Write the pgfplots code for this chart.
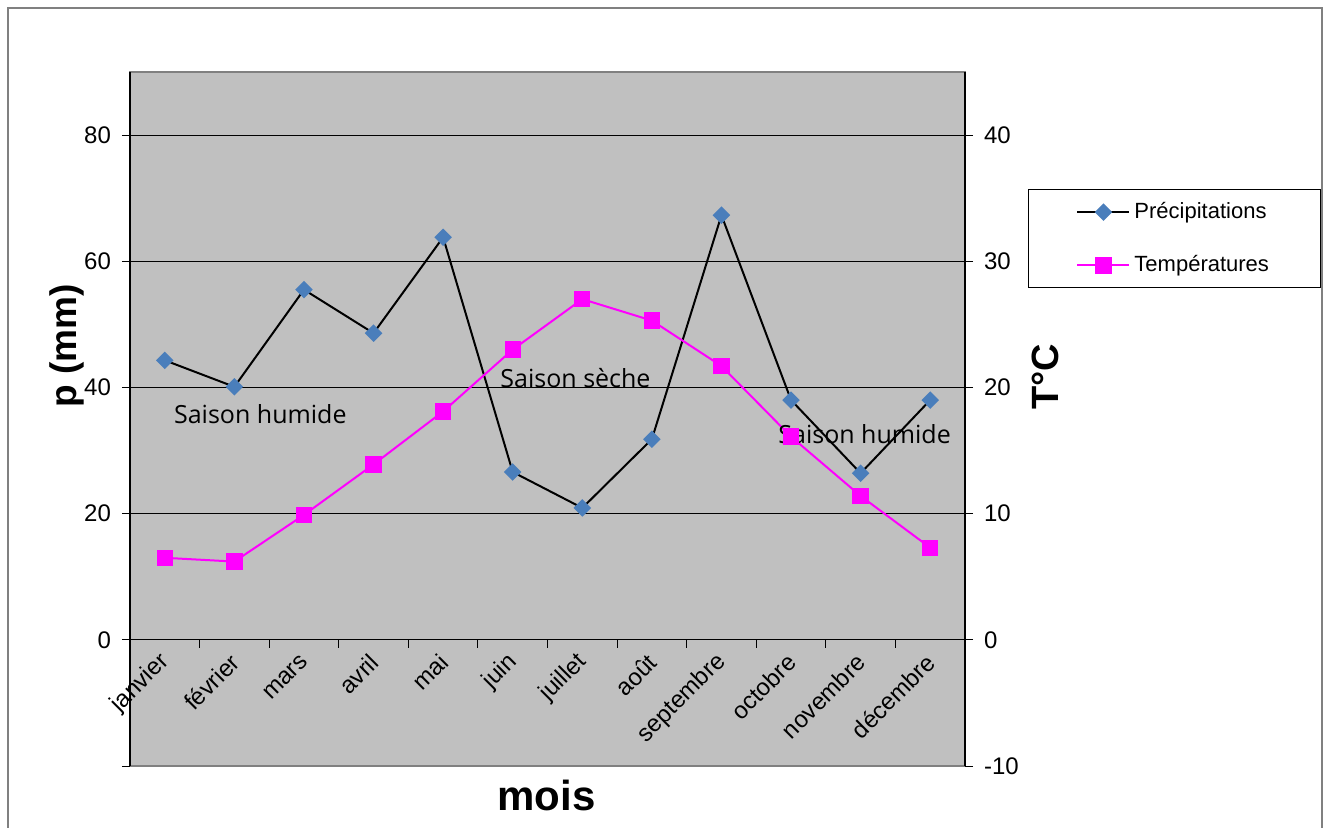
\documentclass[border=0pt]{standalone}
\usepackage{pgfplots}
\pgfplotsset{compat=1.18}
\usepackage{fontspec}
\setmainfont{Liberation Sans}
\newfontfamily\annotfont{Open Sans}
\definecolor{plotbg}{RGB}{192,192,192}
\definecolor{precipblue}{RGB}{74,126,187}
\definecolor{framegray}{RGB}{128,128,128}
\definecolor{tempmag}{RGB}{255,0,255}

% monthly data
\pgfplotstableread{
m  p     t
0  44.3  6.5
1  40.1  6.2
2  55.5  9.9
3  48.6  13.9
4  63.8  18.1
5  26.6  23.0
6  20.9  27.0
7  31.8  25.3
8  67.3  21.7
9  38.0  16.1
10 26.4  11.4
11 38.0  7.3
}\climat

\pgfplotsset{
  climbase/.style={
    at={(65pt,30.5pt)}, anchor=south west,
    width=417.5pt, height=347pt, scale only axis,
    xmin=-0.5, xmax=11.5,
    tick align=outside, major tick length=4pt,
    tick style={black, line width=0.5pt},
    tick label style={font=\fontsize{12}{14}\selectfont},
    /pgf/number format/assume math mode=true,
  },
}

\begin{document}
\begin{tikzpicture}
\useasboundingbox (0pt,0pt) rectangle (665pt,413.5pt);
\draw[framegray, line width=1pt] (4pt,-5pt) -- (4pt,409.5pt) -- (661pt,409.5pt) -- (661pt,-5pt);

\begin{axis}[climbase,
  ymin=-20, ymax=90,
  axis x line*=middle, axis y line*=left,
  hide obscured x ticks=false,
  axis line style={-, black, line width=0.6pt},
  axis background/.style={fill=plotbg, draw=framegray, line width=1pt},
  ytick={0,20,...,80},
  extra y ticks={-20}, extra y tick labels={}, extra y tick style={grid=none},
  ymajorgrids, grid style={black, line width=0.5pt},
  xtick={-0.5,0.5,...,11.5},
  x tick label as interval,
  xticklabels={janvier,février,mars,avril,mai,juin,juillet,août,septembre,octobre,novembre,décembre},
  xticklabel style={rotate=45, anchor=east, yshift=-4pt},
  yticklabel style={xshift=-2pt},
]
\addplot[black, line width=1pt, mark=square*, mark size=2.6pt,
  mark options={rotate=45, fill=precipblue, draw=precipblue}]
  table[x=m, y=p] {\climat};
\end{axis}

\begin{axis}[climbase,
  ymin=-10, ymax=45,
  axis y line*=right, axis x line=none,
  axis line style={-, black, line width=0.6pt},
  ytick={-10,0,...,40},
  yticklabel style={xshift=2pt},
  legend cell align=left,
  legend style={at={(1.0754,0.8314)}, anchor=north west,
    draw=black, line width=0.5pt, fill=white,
    inner xsep=24pt, inner ysep=4.5pt, row sep=13pt,
    font=\fontsize{11}{13}\selectfont},
  legend image code/.code={
    \draw[mark repeat=2, mark phase=2, #1]
      plot coordinates {(0pt,0pt) (13pt,0pt) (26pt,0pt)};},
]
\addlegendimage{black, line width=1pt, mark=square*, mark size=2.6pt,
  mark options={rotate=45, fill=precipblue, draw=precipblue}}
\addlegendentry{Précipitations}
\addplot[tempmag, line width=1pt, mark=square*, mark size=3.6pt,
  mark options={fill=tempmag, draw=tempmag}]
  table[x=m, y=t] {\climat};
\addlegendentry{Températures}
\node[anchor=base, font=\annotfont\fontsize{12.5}{15}\selectfont] at (axis cs:1.373,17.18) {Saison humide};
\node[anchor=base, font=\annotfont\fontsize{12.5}{15}\selectfont] at (axis cs:5.902,19.96) {Saison sèche};
\node[anchor=base, font=\annotfont\fontsize{12.5}{15}\selectfont] at (axis cs:10.057,15.59) {Saison humide};
\end{axis}

\node[rotate=90, font=\bfseries\fontsize{18.5}{22}\selectfont] at (33.5pt,240.5pt) {p (mm)};
\node[rotate=90, font=\bfseries\fontsize{19}{22}\selectfont] at (522.5pt,225pt) {T°C};
\node[anchor=base, font=\bfseries\fontsize{21}{25}\selectfont] at (273.3pt,8.5pt) {mois};
\end{tikzpicture}
\end{document}
